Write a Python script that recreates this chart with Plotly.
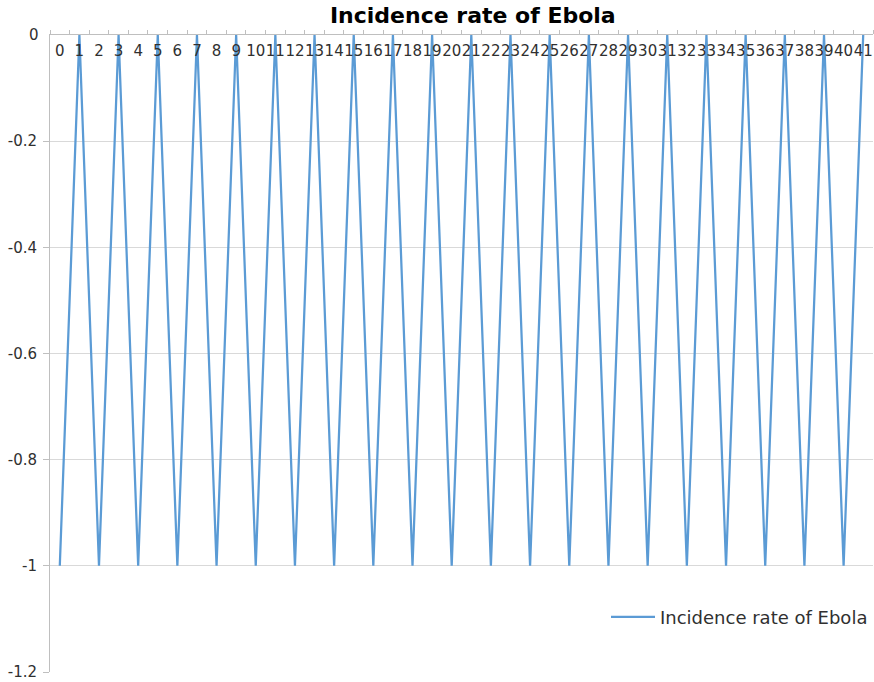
import plotly.graph_objects as go

# Week index (category axis) and incidence rate for each week
weeks = [str(i) for i in range(42)]
incidence = [-1, 0] * 21

series_name = "Incidence rate of Ebola"
y_ticks = [0, -0.2, -0.4, -0.6, -0.8, -1, -1.2]
y_tick_text = ["0", "-0.2", "-0.4", "-0.6", "-0.8", "-1", "-1.2"]

fig = go.Figure(
    go.Scatter(
        x=weeks,
        y=incidence,
        mode="lines",
        name=series_name,
        line=dict(color="#5B9BD5", width=2.25),
        showlegend=True,
    )
)

font_family = "DejaVu Sans, sans-serif"
label_color = "#303030"
tick_font = dict(family=font_family, size=15, color=label_color)

fig.update_layout(
    width=874,
    height=682,
    margin=dict(l=50, r=1, t=35, b=10),
    paper_bgcolor="white",
    plot_bgcolor="white",
    font=dict(family=font_family, size=15, color=label_color),
    title=dict(
        text="<b>Incidence rate of Ebola</b>",
        x=0.541,
        xanchor="center",
        y=0.978,
        yanchor="middle",
        font=dict(family=font_family, size=22, color="#000000"),
    ),
    legend=dict(
        x=1,
        xanchor="right",
        y=0.086,
        yanchor="middle",
        bgcolor="rgba(0,0,0,0)",
        font=dict(family=font_family, size=18, color=label_color),
        itemwidth=44,
    ),
    xaxis=dict(
        type="category",
        categoryorder="array",
        categoryarray=weeks,
        range=[-0.5, len(weeks) - 0.5],
        side="top",
        ticklabelposition="inside",
        ticklabelstandoff=10,
        showline=True,
        linecolor="#BFBFBF",
        linewidth=1,
        ticks="outside",
        ticklen=4,
        tickcolor="#BFBFBF",
        tickson="boundaries",
        showgrid=False,
        zeroline=False,
        tickangle=0,
        tickfont=tick_font,
    ),
    yaxis=dict(
        range=[-1.2, 0],
        tickvals=y_ticks,
        ticktext=y_tick_text,
        ticklabelstandoff=3,
        showline=True,
        linecolor="#BFBFBF",
        linewidth=1,
        ticks="outside",
        ticklen=6,
        tickcolor="#BFBFBF",
        showgrid=True,
        gridcolor="#D9D9D9",
        gridwidth=1,
        zeroline=False,
        tickfont=tick_font,
    ),
)

# The top y tick label sits where the x-axis labels are drawn inside the
# plot, so Plotly suppresses it; place it explicitly beside the axis.
fig.add_annotation(
    x=0,
    xref="paper",
    y=y_ticks[0],
    yref="y",
    text=y_tick_text[0],
    showarrow=False,
    xanchor="right",
    yanchor="middle",
    xshift=-9,
    font=tick_font,
)

fig.write_html("out.html")
